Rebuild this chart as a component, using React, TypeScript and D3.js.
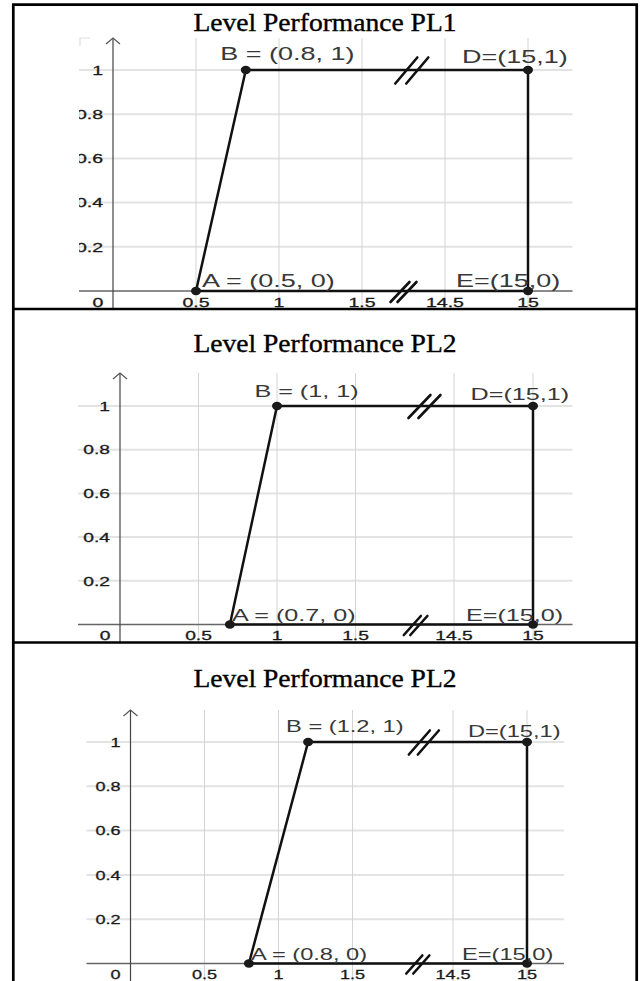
import React from 'react';
import * as d3 from 'd3';

// tick values and labels, shared by all three panels
const xTicks = [0.5, 1, 1.5, 14.5, 15];
const xTickLabels = ['0.5', '1', '1.5', '14.5', '15'];
const yTicks = [0.2, 0.4, 0.6, 0.8, 1];
const yTickLabels = ['0.2', '0.4', '0.6', '0.8', '1'];

const titles = ['Level Performance PL1', 'Level Performance PL2', 'Level Performance PL2'];

// trapezoid vertices A, B, D, E
const pl1X = [0.5, 0.8, 15, 15];
const pl1Y = [0, 1, 1, 0];
const pl1Labels = ['A = (0.5, 0)', 'B = (0.8, 1)', 'D=(15,1)', 'E=(15,0)'];

const pl2X = [0.7, 1, 15, 15];
const pl2Y = [0, 1, 1, 0];
const pl2Labels = ['A = (0.7, 0)', 'B = (1, 1)', 'D=(15,1)', 'E=(15,0)'];

const pl3X = [0.8, 1.2, 15, 15];
const pl3Y = [0, 1, 1, 0];
const pl3Labels = ['A = (0.8, 0)', 'B = (1.2, 1)', 'D=(15,1)', 'E=(15,0)'];

// the x axis is broken between 1.5 and 14.5
const xDomain = [0, 1.5, 14.5, 15];

const W = 641;
const H = 981;
const tableLeft = 13.3;
const tableRight = 636.7;
const rowLines = [4.7, 309, 642.5];

const panels = [
  {
    title: titles[0], xs: pl1X, ys: pl1Y, labels: pl1Labels,
    top: 4.7, bottom: 309, titleY: 31,
    xRange: [113, 362, 445, 528], yRange: [291, 70],
    gridLeft: 79, gridRight: 572.5, gridTop: 38,
    font: 18, sx: 1.5, clip: true,
    labelOff: [[6, -4], [-25.5, -10], [-66, -7], [-72, -4]],
    slashTop: { f: 0.6, hw: 11, hh: 13, gap: 11 },
    slashBot: { f: 0.5, hw: 9.5, hh: 10, gap: 7 },
  },
  {
    title: titles[1], xs: pl2X, ys: pl2Y, labels: pl2Labels,
    top: 309, bottom: 642.5, titleY: 352,
    xRange: [120, 355.5, 454, 533], yRange: [624.5, 406],
    gridLeft: 78, gridRight: 572.5, gridTop: 373,
    font: 17, sx: 1.48, clip: false,
    labelOff: [[2, -4], [-22.6, -9], [-62.4, -6], [-67, -4]],
    slashTop: { f: 0.7, hw: 11, hh: 11.5, gap: 10 },
    slashBot: { f: 0.61, hw: 8.5, hh: 9.5, gap: 6.5 },
  },
  {
    title: titles[2], xs: pl3X, ys: pl3Y, labels: pl3Labels,
    top: 642.5, bottom: 981, titleY: 687,
    xRange: [130.5, 352.5, 453, 527], yRange: [963.5, 742],
    gridLeft: 86.5, gridRight: 564, gridTop: 710,
    font: 17, sx: 1.39, clip: false,
    labelOff: [[2, -4], [-22, -10], [-59, -5], [-65, -4]],
    slashTop: { f: 0.71, hw: 10.5, hh: 12, gap: 9 },
    slashBot: { f: 0.65, hw: 8, hh: 9, gap: 7 },
  },
];

const SANS = '"Liberation Sans", Arial, sans-serif';

const Slash = ({ cx, cy, s }: any) => (
  <g stroke="#111" strokeWidth={2.6} strokeLinecap="round">
    {[-s.gap / 2, s.gap / 2].map((o, i) => (
      <line key={i} x1={cx + o - s.hw} y1={cy + s.hh} x2={cx + o + s.hw} y2={cy - s.hh} />
    ))}
  </g>
);

const Panel = ({ p, idx }: any) => {
  const x = d3.scaleLinear().domain(xDomain).range(p.xRange);
  const y = d3.scaleLinear().domain([0, 1]).range(p.yRange);
  const ax = x(0);
  const ay = y(0);
  const pts = p.xs.map((v: number, i: number) => [x(v), y(p.ys[i])]);
  const path = d3.line()([...pts, pts[0]]);
  const gapL = x(1.5);
  const gapR = x(14.5);
  const clipId = `clip${idx}`;

  return (
    <g>
      <text x={(tableLeft + tableRight) / 2} y={p.titleY} textAnchor="middle"
        fontFamily='"Liberation Serif", "DejaVu Serif", serif' fontSize={25}
        textLength={263} lengthAdjust="spacingAndGlyphs" fill="#000"
        stroke="#000" strokeWidth={0.35}>{p.title}</text>

      <clipPath id={clipId}>
        <rect x={p.clip ? 79 : tableLeft} y={p.top} width={tableRight - (p.clip ? 79 : tableLeft)} height={p.bottom - p.top} />
      </clipPath>

      <g clipPath={`url(#${clipId})`}>
        {p.clip && (
          <path d={`M${p.gridLeft + 11},${p.gridTop} H${p.gridLeft + 1} V${p.gridTop + 8}`} fill="none" stroke="#ddd" strokeWidth={1.2} />
        )}
        {/* grid */}
        {yTicks.map((t) => (
          <line key={'h' + t} x1={p.gridLeft} x2={p.gridRight} y1={y(t)} y2={y(t)} stroke="#e3e3e3" strokeWidth={2} />
        ))}
        {xTicks.map((t) => (
          <line key={'v' + t} x1={x(t)} x2={x(t)} y1={p.gridTop} y2={p.bottom} stroke="#d4d4d4" strokeWidth={1} />
        ))}

        {/* axes */}
        <line x1={p.gridLeft} x2={p.gridRight} y1={ay} y2={ay} stroke="#666" strokeWidth={1.4} />
        <line x1={ax} x2={ax} y1={p.gridTop} y2={p.bottom} stroke="#444" strokeWidth={1.2} />
        <path d={`M${ax - 7},${p.gridTop + 6} L${ax},${p.gridTop} L${ax + 7},${p.gridTop + 6}`} fill="none" stroke="#555" strokeWidth={1.2} />

        {/* tick labels */}
        <g fontFamily={SANS} fontSize={13} fill="#1a1a1a" stroke="#1a1a1a" strokeWidth={0.3}>
          {yTicks.map((t, i) => (
            <g key={'yl' + t} transform={`translate(${ax - 10},${y(t) + 4.7}) scale(${p.sx},1)`}>
              <text textAnchor="end">{yTickLabels[i]}</text>
            </g>
          ))}
          <g transform={`translate(${ax - 15},${ay + 15.5}) scale(${p.sx},1)`}>
            <text textAnchor="middle">0</text>
          </g>
          {xTicks.map((t, i) => (
            <g key={'xl' + t} transform={`translate(${x(t)},${ay + 15.5}) scale(${p.sx},1)`}>
              <text textAnchor="middle">{xTickLabels[i]}</text>
            </g>
          ))}
        </g>

        {/* trapezoid */}
        <path d={path || ''} fill="none" stroke="#111" strokeWidth={2.5} strokeLinejoin="round" />
        <Slash cx={gapL + (gapR - gapL) * p.slashTop.f} cy={y(1) + 0.5} s={p.slashTop} />
        <Slash cx={gapL + (gapR - gapL) * p.slashBot.f} cy={ay + 1} s={p.slashBot} />

        {pts.map((q: number[], i: number) => (
          <ellipse key={'pt' + i} cx={q[0]} cy={q[1]} rx={5} ry={4.2} fill="#1a1a1a" />
        ))}

        <g fontFamily={SANS} fontSize={p.font} fill="#383838">
          {pts.map((q: number[], i: number) => (
            <g key={'lb' + i} transform={`translate(${q[0] + p.labelOff[i][0]},${q[1] + p.labelOff[i][1]}) scale(${p.sx},1)`}>
              <text>{p.labels[i]}</text>
            </g>
          ))}
        </g>
      </g>
    </g>
  );
};

export default function App() {
  return (
    <svg width={W} height={H} viewBox={`0 0 ${W} ${H}`}
      style={{ position: 'absolute', left: 0, top: 0, background: '#fff', display: 'block' }}>
      <rect x={0} y={0} width={W} height={H} fill="#fff" />
      {panels.map((p, i) => <Panel key={i} p={p} idx={i} />)}
      {/* table rules */}
      <g stroke="#000" strokeWidth={2.7}>
        {rowLines.map((r) => (
          <line key={r} x1={tableLeft - 1.35} x2={tableRight + 1.35} y1={r} y2={r} />
        ))}
        <line x1={tableLeft} x2={tableLeft} y1={rowLines[0]} y2={H} />
        <line x1={tableRight} x2={tableRight} y1={rowLines[0]} y2={H} />
      </g>
    </svg>
  );
}
